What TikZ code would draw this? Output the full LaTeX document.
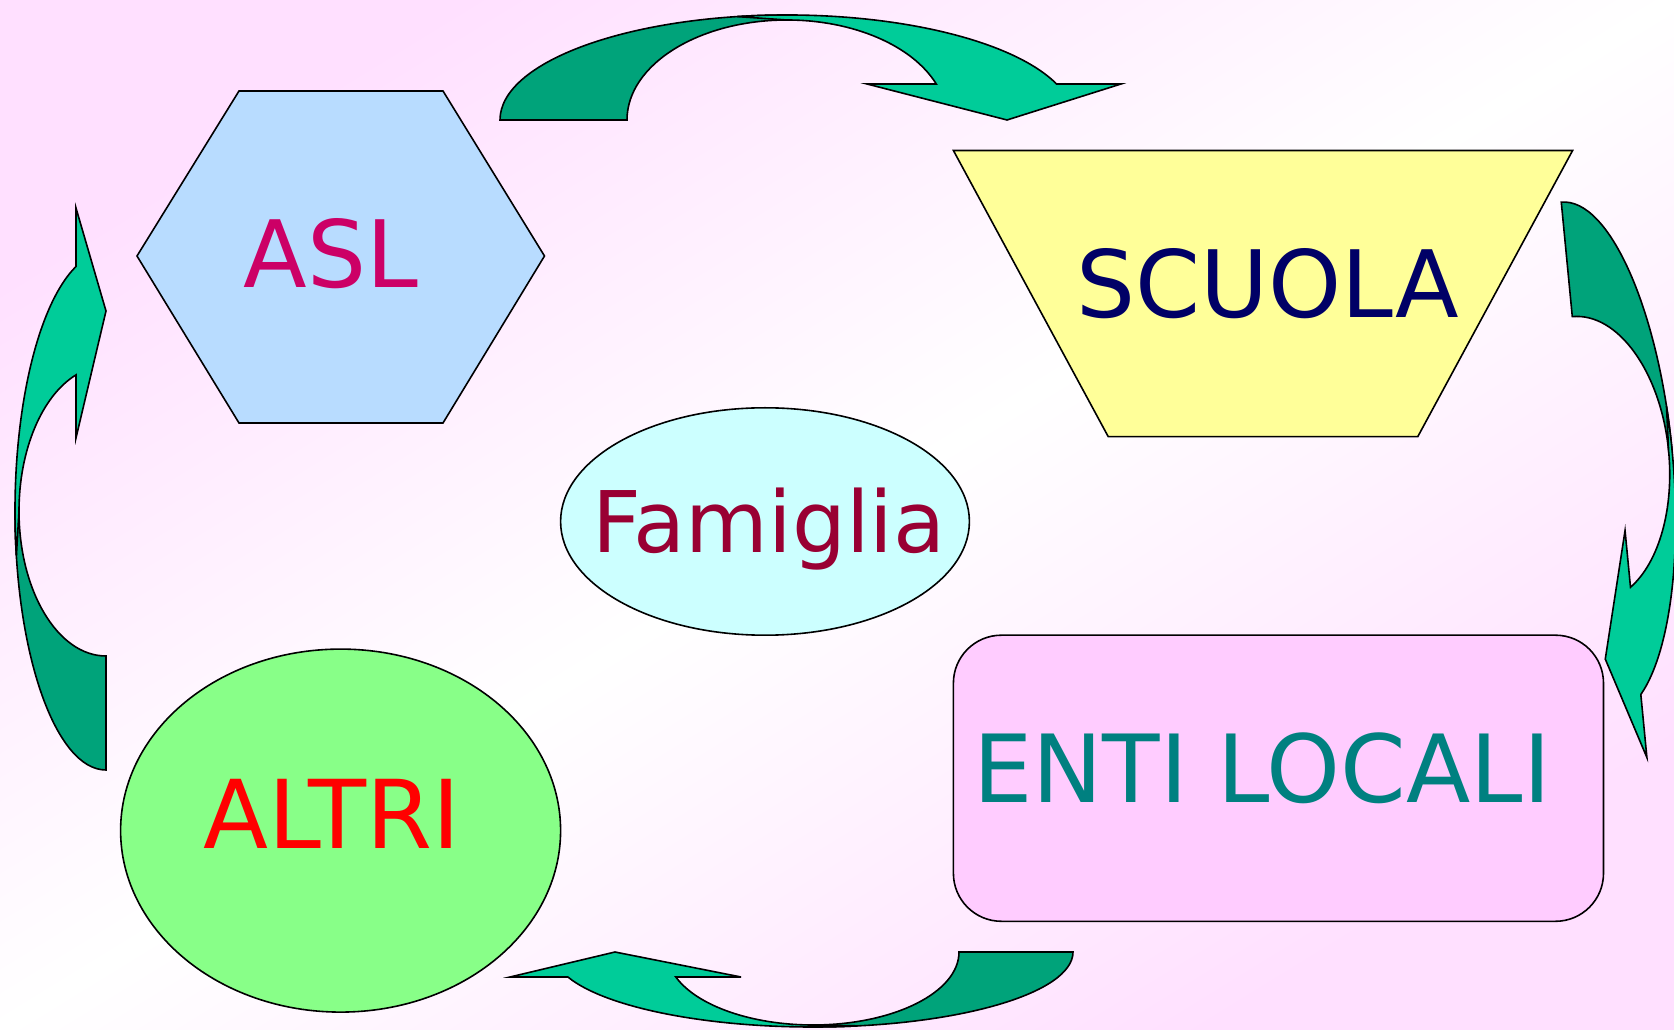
\documentclass[tikz,border=0pt]{standalone}
\usepackage{fontspec}
\setmainfont{DejaVu Sans}
\definecolor{bgpink}{RGB}{255,224,255}
\definecolor{aslfill}{RGB}{184,220,255}
\definecolor{scuolafill}{RGB}{255,255,153}
\definecolor{famfill}{RGB}{204,255,255}
\definecolor{entifill}{RGB}{255,204,255}
\definecolor{altrifill}{RGB}{136,255,136}
\definecolor{asltext}{RGB}{204,0,102}
\definecolor{scuolatext}{RGB}{0,0,102}
\definecolor{famtext}{RGB}{153,0,51}
\definecolor{entitext}{RGB}{0,128,128}
\definecolor{altritext}{RGB}{255,0,0}
\definecolor{arrowlight}{RGB}{0,204,153}
\definecolor{arrowdark}{RGB}{0,163,122}
\tikzset{
  outlined/.style={draw=black, line width=1.6pt},
  arrdark/.style={outlined, fill=arrowdark},
  arrlight/.style={outlined, fill=arrowlight},
  bigtext/.style={anchor=base, inner sep=0pt},
}
\newcommand{\drawcurvarrow}[9]{%
  \begin{scope}[#1]
    \pgfmathsetmacro{\angO}{asin(#6/#3)}
    \pgfmathsetmacro{\angI}{asin(#6/#5)}
    \draw[arrdark] (180:#2pt and #3pt) arc[start angle=180, end angle=90, x radius=#2pt, y radius=#3pt]
      -- (90:#4pt and #5pt) arc[start angle=90, end angle=180, x radius=#4pt, y radius=#5pt] -- cycle;
    \draw[arrlight] (100:#2pt and #3pt) arc[start angle=100, end angle=\angO, x radius=#2pt, y radius=#3pt]
      -- (#8,#6) -- (#9,0) -- (#7,#6) -- (\angI:#4pt and #5pt)
      arc[start angle=\angI, end angle=90, x radius=#4pt, y radius=#5pt] -- cycle;
  \end{scope}}
\begin{document}
\begin{tikzpicture}[x=1pt,y=1pt]
\useasboundingbox (0,0) rectangle (1674,1029);
\shade[top color=bgpink, bottom color=bgpink, middle color=white, shading angle=31.58] (0,0) rectangle (1674,1029);

% shapes
\draw[outlined, fill=aslfill] (239,938) -- (443,938) -- (544.5,773) -- (443,606) -- (239,606) -- (137,773) -- cycle;
\draw[outlined, fill=scuolafill] (953.4,878.5) -- (1572.6,878.5) -- (1417.8,592.4) -- (1108.2,592.4) -- cycle;
\draw[outlined, fill=famfill] (765,507.5) ellipse [x radius=204.4, y radius=113.7];
\draw[outlined, fill=entifill, rounded corners=48pt] (953.4,393.8) rectangle (1603.5,107.7);
\draw[outlined, fill=altrifill] (340.6,198.4) ellipse [x radius=220, y radius=181.5];

% texts
\node[bigtext, text=asltext, font=\fontsize{93}{100}\selectfont] (asl) at (331,741) {ASL};
\node[bigtext, text=scuolatext, font=\fontsize{93}{100}\selectfont] (scuola) at (1268,711) {SCUOLA};
\node[bigtext, text=famtext, font=\fontsize{85}{90}\selectfont] (fam) at (769,476) {Famiglia};
\node[bigtext, text=entitext, font=\fontsize{94}{100}\selectfont] (enti) at (1262,226) {ENTI LOCALI};
\node[bigtext, text=altritext, font=\fontsize{95}{100}\selectfont] (altri) at (332,180) {ALTRI};

% curved arrows
\drawcurvarrow{shift={(787,909)}}{287}{105}{160}{100}{36}{80}{334}{220}
\drawcurvarrow{shift={(1586,570)},rotate=-84.5}{258}{86.5}{143}{83}{32}{75}{303}{201}
\drawcurvarrow{shift={(106,518)},rotate=90}{259}{91}{145}{87}{30}{73}{303}{200}
\drawcurvarrow{shift={(813,77)},rotate=180}{260}{75}{146}{73}{25}{72}{303}{198}
\end{tikzpicture}
\end{document}
